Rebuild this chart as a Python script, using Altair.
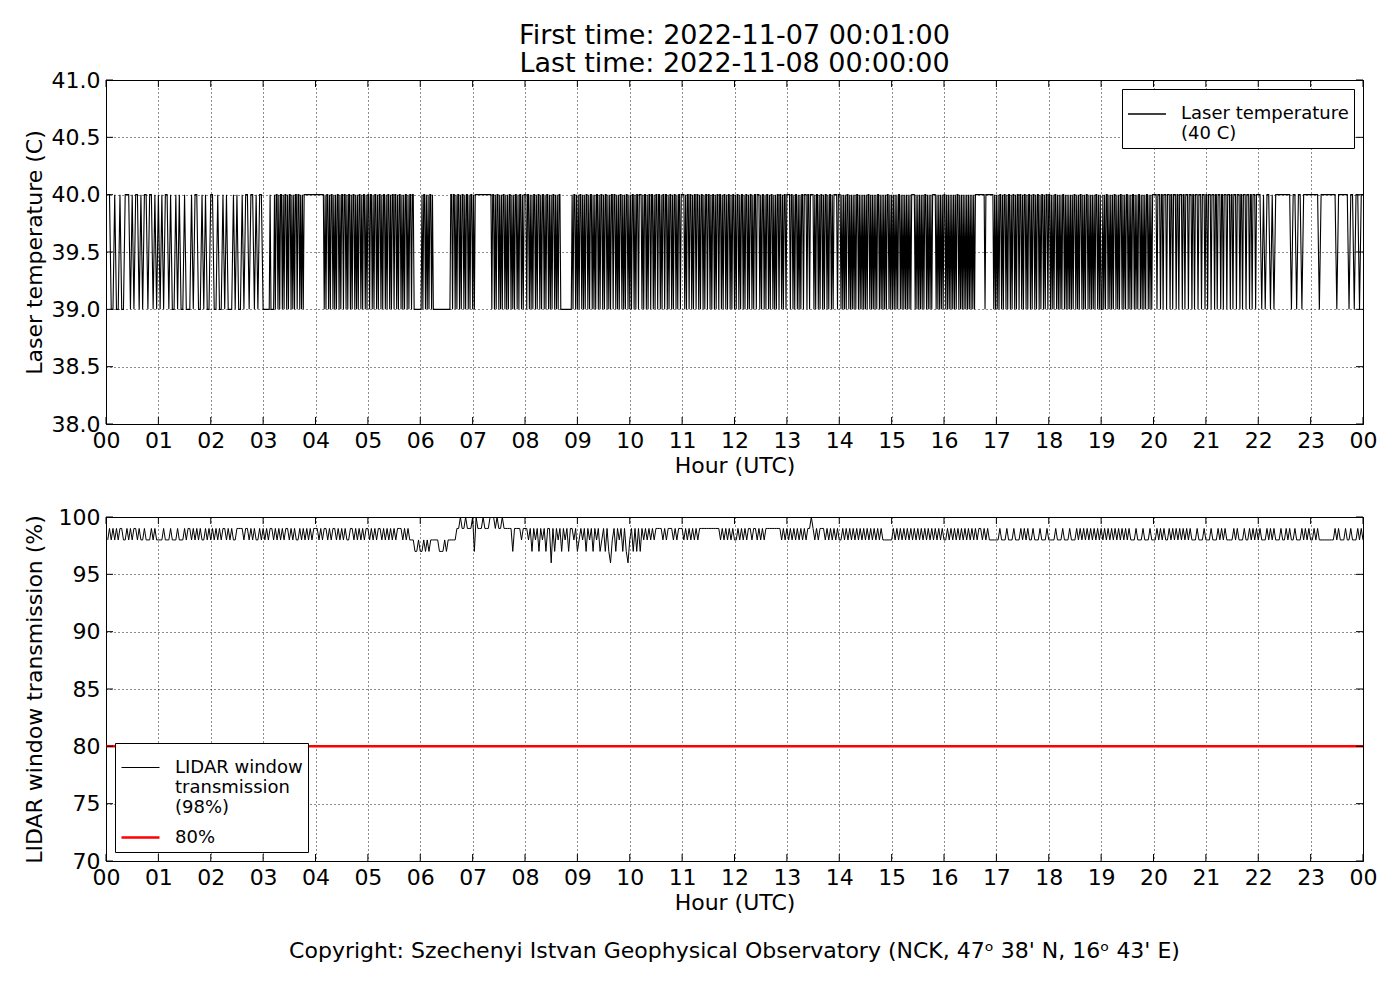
import altair as alt
import pandas as pd

# ---------------- data ----------------
# Laser temperature, one string per hour (30 chars = 2-min steps, 60 chars = 1-min steps):
# '0' -> 39 C, '1' -> 40 C
LASER = [
    "110010010011101011010110110101",  # 00
    "010110100101001000101100101001",  # 01
    "100100101000101001011011010110",  # 02
    "000000010000101101011010110101101010110110101011111111111111",  # 03
    "111111111010110101101010110101101101011010110101011010110101",  # 04
    "101101011010110101101011010110110101101010110101101100000000",  # 05
    "010110101011010000000000000000000011011010110101101011010110",  # 06
    "101111111111111111111011010110101011010101101010110101101011",  # 07
    "101101010110101101011010110101011010101100000000000001011010",  # 08
    "101101010110101101010110101101011010101101101010110101011010",  # 09
    "101101011011101011010110110101101101011011010110101101011011",  # 10
    "110101101101011011010110101101101011010110110101101011010110",  # 11
    "101101011010110101101011011101011010110101101010110110101101",  # 12
    "111011010110101011011101101111010110101101011010110101111011",  # 13
    "101010101101010101011010101010101101010101011010101010110101",  # 14
    "010101011010101010101011110101010101011010101011110101010101",  # 15
    "101010101010101101010101010101010101111111111101111111110101",  # 16
    "010110101101011010110101101101011010110101101011010110101101",  # 17
    "101010110101010110101010101011010101101010110101010101101010",  # 18
    "010101101010101101010110101011010101101010110101010110101011",  # 19
    "111011101101110111011011101101110110111011101101110111011101",  # 20
    "101110111011011101101110111011011101110110111011101101110111",  # 21
    "101011010111111111011011011111",  # 22
    "111101111111110111111011011011",  # 23
]
# LIDAR window transmission, 2-min steps: digit d -> 90+d %, '0' -> 100 %
LIDAR = [
    "898989899889898998988988898988",  # 00
    "889888988898889899898989889898",  # 01
    "989898998989889999899898988989",  # 02
    "898998989898998989889898989899",  # 03
    "989899898998989898899898989899",  # 04
    "898989989898989899989898887787",  # 05
    "787878888877787888889909909990",  # 06
    "709990999000909909999979999899",  # 07
    "989798979897996979897989799897",  # 08
    "898979897989789797689798979768",  # 09
    "979797989898989999898999898999",  # 10
    "898989898999999999999898989898",  # 11
    "898989899899898989999999998989",  # 12
    "898989898989909898999898989898",  # 13
    "898989898989898989898989888888",  # 14
    "989898989898989898989898989898",  # 15
    "898989898989898989899898988888",  # 16
    "898889888988898989889888988898",  # 17
    "888988898889888989898989898989",  # 18
    "898989898989898988898889888988",  # 19
    "898989889898989898989888988898",  # 20
    "889888989898888989888988989898",  # 21
    "988898989888988989889888989898",  # 22
    "898988888888898988898898889898",  # 23
]
THRESHOLD_VALUE = 80
HOUR_TICKS = list(range(25))
LASER_TICKS = [38.0, 38.5, 39.0, 39.5, 40.0, 40.5, 41.0]
LIDAR_TICKS = [70, 75, 80, 85, 90, 95, 100]
TITLE_LINES = ["First time: 2022-11-07 00:01:00", "Last time: 2022-11-08 00:00:00"]
COPYRIGHT = "Copyright: Szechenyi Istvan Geophysical Observatory (NCK, 47\u1d52  38' N, 16\u1d52  43' E)"
LASER_LABEL = "Laser temperature|(40 C)"
LIDAR_LABEL = "LIDAR window|transmission|(98%)"
THRESH_LABEL = "80%"

# ---------------- build tables ----------------
laser_rows, lidar_rows = [], []
for h, s in enumerate(LASER):
    for k, c in enumerate(s):
        laser_rows.append({"t": h + (k + 1) / len(s), "v": 39 + int(c), "s": LASER_LABEL})
for h, s in enumerate(LIDAR):
    for k, c in enumerate(s):
        val = 100 if c == "0" else 90 + int(c)
        lidar_rows.append({"t": h + (k + 1) / len(s), "v": val, "s": LIDAR_LABEL})
thresh_rows = [{"t": 0, "v": THRESHOLD_VALUE, "s": THRESH_LABEL},
               {"t": 24, "v": THRESHOLD_VALUE, "s": THRESH_LABEL}]

laser_df = pd.DataFrame(laser_rows)
lidar_df = pd.DataFrame(lidar_rows + thresh_rows)
hour_df = pd.DataFrame({"t": HOUR_TICKS})
laser_tick_df = pd.DataFrame({"v": LASER_TICKS})
lidar_tick_df = pd.DataFrame({"v": LIDAR_TICKS})

W, H = 1257, 344
TL = 7
FONT = "DejaVu Sans"

xscale = alt.Scale(domain=[0, 24], nice=False, zero=False)
hour_label = "(datum.value % 24 < 10 ? '0' : '') + (datum.value % 24)"


def xaxis():
    return alt.Axis(values=HOUR_TICKS, labelExpr=hour_label, title="Hour (UTC)",
                    grid=True, gridDash=[1, 3], gridColor="black", gridOpacity=0.9,
                    tickSize=0, domain=False, labelPadding=6, titlePadding=4,
                    labelFlush=False)


def yaxis(title, ticks, fmt):
    return alt.Axis(values=ticks, format=fmt, title=title, grid=True,
                    gridDash=[1, 3], gridColor="black", gridOpacity=0.9,
                    tickSize=0, domain=False, labelPadding=6, titlePadding=4,
                    minExtent=56, maxExtent=56)


def legend(orient):
    return alt.Legend(title=None, orient=orient, offset=9,
                      labelExpr="split(datum.label, '|')",
                      symbolType="stroke", symbolSize=1444,
                      labelFontSize=18, labelFont=FONT, labelOffset=14,
                      labelLimit=400, padding=5, strokeColor="black",
                      fillColor="white", labelColor="black")


def tick_layers(ydf, yscale):
    xb = alt.Chart(hour_df).mark_rule(color="black", strokeWidth=1).encode(
        x=alt.X("t:Q", scale=xscale), y=alt.value(H), y2=alt.value(H - TL))
    xt = alt.Chart(hour_df).mark_rule(color="black", strokeWidth=1).encode(
        x=alt.X("t:Q", scale=xscale), y=alt.value(0), y2=alt.value(TL))
    yl = alt.Chart(ydf).mark_rule(color="black", strokeWidth=1).encode(
        y=alt.Y("v:Q", scale=yscale), x=alt.value(0), x2=alt.value(TL))
    yr = alt.Chart(ydf).mark_rule(color="black", strokeWidth=1).encode(
        y=alt.Y("v:Q", scale=yscale), x=alt.value(W - TL), x2=alt.value(W))
    return [xb, xt, yl, yr]


# ---------------- top panel ----------------
laser_y = alt.Scale(domain=[38, 41], nice=False, zero=False)
laser_line = alt.Chart(laser_df).mark_line(strokeWidth=1.1, clip=True).encode(
    x=alt.X("t:Q", scale=xscale, axis=xaxis()),
    y=alt.Y("v:Q", scale=laser_y, axis=yaxis("Laser temperature (C)", LASER_TICKS, ".1f")),
    color=alt.Color("s:N", scale=alt.Scale(domain=[LASER_LABEL], range=["black"]),
                    legend=legend("top-right")),
)
top = alt.layer(laser_line, *tick_layers(laser_tick_df, laser_y)).properties(
    width=W, height=H,
    title=alt.TitleParams(text=TITLE_LINES, fontSize=27, fontWeight="normal",
                          font=FONT, anchor="middle", frame="group", offset=-9,
                          lineHeight=28, color="black"),
)

# ---------------- bottom panel ----------------
lidar_y = alt.Scale(domain=[70, 100], nice=False, zero=False)
lidar_line = alt.Chart(lidar_df).mark_line(clip=True).encode(
    x=alt.X("t:Q", scale=xscale, axis=xaxis()),
    y=alt.Y("v:Q", scale=lidar_y, axis=yaxis("LIDAR window transmission (%)", LIDAR_TICKS, "d")),
    color=alt.Color("s:N", scale=alt.Scale(domain=[LIDAR_LABEL, THRESH_LABEL], range=["black", "red"]),
                    legend=legend("bottom-left")),
    strokeWidth=alt.StrokeWidth("s:N", scale=alt.Scale(domain=[LIDAR_LABEL, THRESH_LABEL], range=[1, 2.5]),
                                legend=legend("bottom-left")),
)
bottom = alt.layer(lidar_line, *tick_layers(lidar_tick_df, lidar_y)).properties(
    width=W, height=H,
    title=alt.TitleParams(text=COPYRIGHT, orient="bottom", fontSize=22, fontWeight="normal",
                          font=FONT, anchor="middle", frame="group", offset=28, color="black"),
)

chart = alt.vconcat(top, bottom, spacing=28).resolve_scale(
    color="independent", strokeWidth="independent"
).resolve_legend(
    color="independent", strokeWidth="independent"
).properties(
    padding={"left": 14, "top": 13, "right": 5, "bottom": 5},
).configure(
    font=FONT, background="white",
).configure_view(
    stroke="black", strokeWidth=1,
).configure_axis(
    labelFont=FONT, titleFont=FONT, labelFontSize=22, titleFontSize=22,
    titleFontWeight="normal", labelColor="black", titleColor="black",
).configure_legend(
    rowPadding=0,
)

chart.save("out.html", embed_options={"renderer": "svg", "actions": False})
